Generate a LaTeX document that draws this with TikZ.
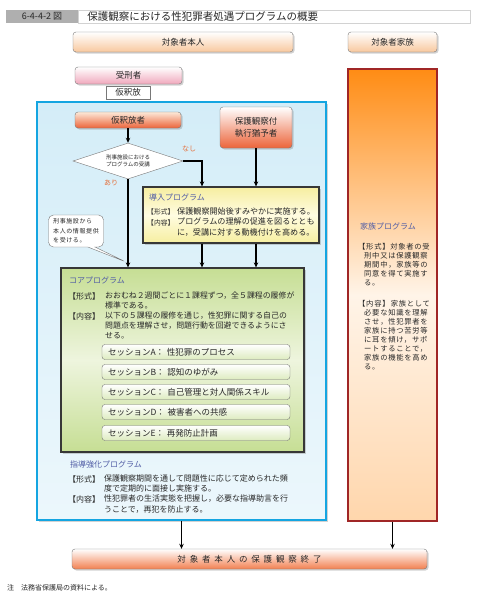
\documentclass[tikz,border=0pt]{standalone}
\usepackage{fontspec}
\setmainfont{Noto Sans CJK JP}
\newfontfamily\widefont[LetterSpace=45]{Noto Sans CJK JP}
\newfontfamily\loosefont[LetterSpace=10]{Noto Sans CJK JP}
\definecolor{hbgray}{RGB}{175,175,175}
\definecolor{hbborder}{RGB}{120,120,120}
\definecolor{hbdark}{RGB}{55,55,55}
\definecolor{hbtext}{RGB}{40,40,40}
\definecolor{hbpeach}{RGB}{248,200,158}
\definecolor{hbpink}{RGB}{240,168,188}
\definecolor{hbred}{RGB}{236,100,58}
\definecolor{hbcoral}{RGB}{242,128,80}
\definecolor{hborange}{RGB}{255,140,20}
\definecolor{hbblush}{RGB}{255,244,232}
\definecolor{hbcream}{RGB}{255,214,172}
\definecolor{hbbrick}{RGB}{160,38,38}
\definecolor{hbsky}{RGB}{20,165,225}
\definecolor{hbice}{RGB}{212,237,248}
\definecolor{hbyellow}{RGB}{246,238,160}
\definecolor{hbivory}{RGB}{255,252,225}
\definecolor{hbleaf}{RGB}{198,222,148}
\definecolor{hbmint}{RGB}{238,245,222}
\definecolor{hbnavy}{RGB}{80,92,165}
\definecolor{hbamber}{RGB}{228,112,60}
\usetikzlibrary{arrows.meta,positioning,shapes.geometric,shapes.callouts,shadows}

\begin{document}
\begin{tikzpicture}[x=1pt,y=-1pt,
  softshadow/.style={drop shadow={shadow xshift=1.5pt,shadow yshift=-1.5pt,opacity=0.35}},
  headbox/.style={draw=hbborder, rounded corners=3pt, top color=white, bottom color=hbpeach, inner sep=0pt, softshadow, font=\fontsize{8.5}{12}\selectfont, text=hbtext},
  panel/.style={draw=hbdark, line width=1.2pt, inner sep=0pt, softshadow},
  sessbox/.style={draw=hbborder, rounded corners=3pt, top color=white, bottom color=hbleaf!60!white, text width=176pt, inner xsep=6pt, inner ysep=0pt, minimum height=15pt, align=left, font=\fontsize{8.5}{10}\selectfont, text=hbtext},
  heading/.style={anchor=west, inner sep=0pt, font=\fontsize{8}{10}\selectfont, text=hbnavy},
  body/.style={inner sep=0pt, align=left, font=\fontsize{8}{10.2}\selectfont, text=hbtext},
  flow/.style={-{Stealth[length=5pt,width=4.5pt]}, line width=1.1pt, black}]

  \useasboundingbox (0,0) rectangle (477,600);
  \fill[white] (0,0) rectangle (477,600);

  % Title bar
  \node[fill=hbgray, minimum width=72pt, minimum height=13pt, inner sep=0pt, font=\fontsize{9}{10}\selectfont, text=hbtext] (fignum) at (42,16.5) {6-4-4-2 図};
  \node[draw=gray!35, right=0pt of fignum, minimum height=13pt, inner xsep=9pt, inner ysep=0pt, text width=374pt, align=left, font=\fontsize{10.5}{12}\selectfont, text=hbtext] (title) {保護観察における性犯罪者処遇プログラムの概要};

  % Column headers
  \node[headbox, minimum width=220pt, minimum height=20pt] (selfhead) at (183,42) {対象者本人};
  \node[headbox, minimum width=89pt, minimum height=20pt] (familyhead) at (392.5,42) {対象者家族};

  % Outer blue frame and family column
  \node[draw=hbsky, line width=2.5pt, top color=hbice, bottom color=hbice!45!white, minimum width=289pt, minimum height=418pt, inner sep=0pt, softshadow] (frame) at (181.5,311) {};
  \node[draw=hbbrick, line width=2pt, top color=hborange, bottom color=hbcream, middle color=hbblush, minimum width=89pt, minimum height=452pt, inner sep=0pt] (familycol) at (392.5,295) {};

  % Prisoner, parole, entry nodes
  \node[headbox, bottom color=hbpink, minimum width=107pt, minimum height=17pt] (prisoner) at (128.5,75.5) {受刑者};
  \node[draw=hbborder, fill=white, minimum width=44pt, minimum height=13pt, inner sep=0pt, font=\fontsize{8.5}{10}\selectfont, text=hbtext] (parole) at (128,92.5) {仮釈放};
  \node[headbox, top color=hbpeach!40!white, bottom color=hbred, minimum width=106pt, minimum height=16pt] (parolee) at (128,120) {仮釈放者};
  \node[headbox, bottom color=hbred, minimum width=72pt, minimum height=41pt, align=center] (suspended) at (256,127.5) {保護観察付\\執行猶予者};

  % Decision
  \node[diamond, draw=hbborder, fill=white, aspect=3, minimum width=110pt, minimum height=36pt, inner sep=0pt, align=center, font=\fontsize{5.5}{7.5}\selectfont, text=hbtext] (check) at (128,161) {刑事施設における\\プログラムの受講};
  \node[inner sep=0pt, font=\fontsize{7}{8}\selectfont, text=hbamber] (nolabel) at (189,149) {なし};
  \node[inner sep=0pt, font=\fontsize{7}{8}\selectfont, text=hbamber] (yeslabel) at (111,183) {あり};
  \coordinate (splitx) at (202,161);

  % Intro program
  \node[panel, top color=hbyellow, bottom color=hbyellow, middle color=hbivory, minimum width=176pt, minimum height=56pt] (intro) at (231,215) {};
  \node[heading] (introtitle) at (149,197) {導入プログラム};
  \node[body, anchor=west, font=\fontsize{6.8}{8}\selectfont] (introform) at (147,212) {【形式】};
  \node[body, anchor=west, font=\fontsize{6.8}{8}\selectfont] (introcont) at (147,222.5) {【内容】};
  \node[body, anchor=north west, font=\fontsize{8.1}{10.5}\selectfont] (introtext) at (177,207.3) {保護観察開始後すみやかに実施する。\\プログラムの理解の促進を図るととも\\に，受講に対する動機付けを高める。};

  % Info callout
  \node[rectangle callout, draw=hbborder, fill=white, rounded corners=5pt, minimum width=55pt, minimum height=32pt, inner sep=2pt, align=left, font=\fontsize{6}{9.3}\loosefont, text=hbtext, callout absolute pointer={(126,262)}] (info) at (76,231) {刑事施設から\\本人の情報提供\\を受ける。};

  % Core program
  \node[panel, top color=hbleaf, bottom color=hbleaf, middle color=hbmint, minimum width=243pt, minimum height=184pt] (core) at (182.5,360) {};
  \node[heading] (coretitle) at (69,280) {コアプログラム};
  \node[body, anchor=west] (coreform) at (68,296) {【形式】};
  \node[body, anchor=west] (corecont) at (68,316) {【内容】};
  \node[body, anchor=north west, font=\fontsize{7.9}{10}\selectfont] (coretext) at (105,291.5) {おおむね２週間ごとに１課程ずつ，全５課程の履修が\\標準である。\\以下の５課程の履修を通じ，性犯罪に関する自己の\\問題点を理解させ，問題行動を回避できるようにさ\\せる。};

  % Sessions
  \node[sessbox] (sessA) at (196,352) {セッションA：\ 性犯罪のプロセス};
  \node[sessbox] (sessB) at (196,372) {セッションB：\ 認知のゆがみ};
  \node[sessbox] (sessC) at (196,392) {セッションC：\ 自己管理と対人関係スキル};
  \node[sessbox] (sessD) at (196,412) {セッションD：\ 被害者への共感};
  \node[sessbox] (sessE) at (196,433) {セッションE：\ 再発防止計画};

  % Guidance program
  \node[heading] (guidetitle) at (70,464) {指導強化プログラム};
  \node[body, anchor=west] (guideform) at (68,479) {【形式】};
  \node[body, anchor=west] (guidecont) at (68,499) {【内容】};
  \node[body, anchor=north west] (guidetext) at (104,474.5) {保護観察期間を通して問題性に応じて定められた頻\\度で定期的に面接し実施する。\\性犯罪者の生活実態を把握し，必要な指導助言を行\\うことで，再犯を防止する。};

  % Family program
  \node[heading] (familytitle) at (360,226) {家族プログラム};
  \node[body, anchor=west, font=\fontsize{7.3}{9}\loosefont] (familyform) at (358,247) {【形式】対象者の受};
  \node[body, anchor=north west, font=\fontsize{7.3}{9}\loosefont] (familyformtext) at (364,251.8) {刑中又は保護観察\\期間中，家族等の\\同意を得て実施す\\る。};
  \node[body, anchor=west, font=\fontsize{7.3}{9}\loosefont] (familycont) at (358,304) {【内容】\,家族として};
  \node[body, anchor=north west, font=\fontsize{7.3}{9}\loosefont] (familyconttext) at (364,308.8) {必要な知識を理解\\させ，性犯罪者を\\家族に持つ苦労等\\に耳を傾け，サポ\\ートすることで，\\家族の機能を高め\\る。};

  % End of supervision
  \node[headbox, bottom color=hbcoral, minimum width=355pt, minimum height=20pt, font=\fontsize{8.5}{10}\widefont] (finish) at (249.5,559) {対象者本人の保護観察終了};

  % Connectors
  \draw[flow] (parolee) -- (check);
  \draw[flow] (check.east) -| (splitx |- intro.north);
  \draw[flow] (suspended) -- (suspended |- intro.north);
  \draw[flow] (check) -- (check |- core.north);
  \draw[flow] (splitx |- intro.south) -- (splitx |- core.north);
  \draw[flow] (suspended |- intro.south) -- (suspended |- core.north);
  \draw[flow] (frame.south) -- (frame.south |- finish.north);
  \draw[flow] (familycol.south) -- (familycol.south |- finish.north);

  % Note
  \node[anchor=west, inner sep=0pt, font=\fontsize{7}{8}\selectfont, text=hbtext] (note) at (7,588) {注\quad 法務省保護局の資料による。};
\end{tikzpicture}
\end{document}
